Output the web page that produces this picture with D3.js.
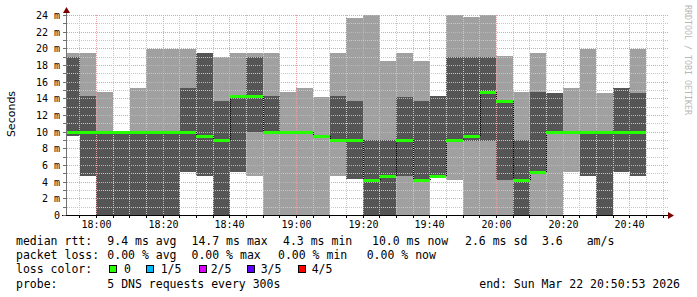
<!DOCTYPE html>
<html><head><meta charset="utf-8">
<script src="https://cdn.jsdelivr.net/npm/d3@7"></script>
<style>body{margin:0;background:#fff;overflow:hidden}</style>
</head><body><svg id="c" width="697" height="297"></svg>
<script>
// ---- data (ms) ----
const slotStarts = ["17:50","17:55","18:00","18:05","18:10","18:15","18:20","18:25","18:30","18:35",
  "18:40","18:45","18:50","18:55","19:00","19:05","19:10","19:15","19:20","19:25",
  "19:30","19:35","19:40","19:45","19:50","19:55","20:00","20:05","20:10","20:15",
  "20:20","20:25","20:30","20:35","20:40"];
const ping1 = [9.6,4.8,0,0,0,0,0,5.28,4.8,0, 5.28,4.8,0,0,0,0,4.8,4.32,0,0, 0,0,4.8,4.28,0,0,0,0,0,0, 5.28,4.8,0,5.28,4.8];
const ping2 = [9.6,4.8,0,0,0,0,0,5.28,4.8,0, 5.28,10.04,10.04,10,10,9.52,9.08,4.32,0,0, 4.8,4.28,4.8,9.08,8.96,8.96,4.28,0,5.28,10, 10,4.8,0,5.28,4.8];
const median = [10,10,10,10,10,10,10,10,9.52,9.08, 14.32,14.32,10.04,10,10,9.52,9.08,9.08,4.28,4.8, 9.08,4.28,4.8,9.08,9.56,14.8,13.8,4.28,5.28,10, 10,10,10,10,10];
const ping4 = [19.04,14.36,10,10,10,10,10,15.36,19.56,13.76, 14.32,19.08,14.36,10,10,9.52,14.36,13.76,9.08,9.08, 14.24,13.76,14.36,19.04,19.04,19.04,13.8,9.08,14.88,14.76, 10,10,10,15.36,14.76];
const ping5 = [19.56,19.56,14.88,10,15.36,20,20,20,19.56,19.04, 19.56,19.56,19.56,14.88,15.36,14.24,19.56,23.68,24.08,18.6, 19.56,18.6,14.36,24.08,23.8,24.08,19.16,14.88,19.56,14.76, 15.36,20,14.76,15.36,20];
const yTicks = [0,2,4,6,8,10,12,14,16,18,20,22,24];
const xTickLabels = ["18:00","18:20","18:40","19:00","19:20","19:40","20:00","20:20","20:40"];
const lossLabels = ["0","1/5","2/5","3/5","4/5"];
const lossColors = ["#26ff00","#00b8ff","#dd00ff","#5e00ff","#ff0000"];
const rttStats = ["9.4 ms avg","14.7 ms max","4.3 ms min","10.0 ms now","2.6 ms sd","3.6","am/s"];
const lossStats = ["0.00 % avg","0.00 % max","0.00 % min","0.00 % now"];
const probeText = "5 DNS requests every 300s";
const endText = "end: Sun Mar 22 20:50:53 2026";

// ---- setup ----
const svg = d3.select("#c");
const T = s => { const [h,m] = s.split(":").map(Number); return new Date(Date.UTC(2026,2,22,h,m)); };
const t0 = new Date(Date.UTC(2026,2,22,17,50,53)), t1 = new Date(Date.UTC(2026,2,22,20,50,53));
const x = d3.scaleUtc().domain([t0,t1]).range([66,666]);
const y = d3.scaleLinear().domain([0,24]).range([215.5,15.5]);
const FIVE = 5*60*1000;
const mono = "'DejaVu Sans Mono', monospace";

svg.append("rect").attr("width",697).attr("height",297).attr("fill","#fff");

const slots = slotStarts.map((s,i)=>{
  const a = T(s), b = new Date(+a+FIVE);
  return {x0: Math.max(67, Math.round(x(a))), x1: Math.round(x(b)),
          p1: ping1[i], p2: ping2[i], p3: median[i], p4: ping4[i], p5: ping5[i]};
});
const g = svg.append("g").attr("shape-rendering","crispEdges");
g.selectAll(".lt").data(slots).join("rect")
  .attr("x",d=>d.x0).attr("width",d=>d.x1-d.x0)
  .attr("y",d=>Math.round(y(d.p5))).attr("height",d=>Math.round(y(d.p1))-Math.round(y(d.p5)))
  .attr("fill","#a0a0a0");
g.selectAll(".dk").data(slots).join("rect")
  .attr("x",d=>d.x0).attr("width",d=>d.x1-d.x0)
  .attr("y",d=>Math.round(y(d.p4))).attr("height",d=>Math.round(y(d.p2))-Math.round(y(d.p4)))
  .attr("fill","#555555");

// grid (on top)
const grid = svg.append("g").attr("shape-rendering","crispEdges");
const minorT = d3.utcMinute.every(5).range(t0,t1);
minorT.forEach(t=>{
  const major = t.getUTCMinutes()%20===0;
  const xx = Math.floor(x(t))+0.5;
  grid.append("line").attr("x1",xx).attr("x2",xx).attr("y1",15).attr("y2",215)
    .attr("stroke", major? "#e8a0a0":"#c8c8c8").attr("stroke-dasharray","1,1");
});
d3.range(1,25).forEach(v=>{
  const major = v%2===0;
  const yy = Math.floor(y(v))+0.5;
  grid.append("line").attr("x1",67).attr("x2",668).attr("y1",yy).attr("y2",yy)
    .attr("stroke", major? "#e8a0a0":"#c8c8c8").attr("stroke-dasharray","1,1");
});

// median connectors + bars
const med = svg.append("g").attr("shape-rendering","crispEdges");
slots.forEach((d,i)=>{
  if(i>0 && slots[i-1].p3!==d.p3){
    med.append("line").attr("x1",d.x0+0.5).attr("x2",d.x0+0.5)
      .attr("y1",y(slots[i-1].p3)).attr("y2",y(d.p3))
      .attr("stroke","#000").attr("stroke-dasharray","1,1");
  }
});
med.selectAll(".md").data(slots).join("rect")
  .attr("x",d=>d.x0).attr("width",d=>d.x1-d.x0)
  .attr("y",d=>Math.round(y(d.p3))-1.5).attr("height",3)
  .attr("fill",lossColors[0]);

// axes
const ax = svg.append("g").attr("shape-rendering","crispEdges");
ax.append("line").attr("x1",66.5).attr("x2",66.5).attr("y1",216).attr("y2",12).attr("stroke","#707070");
ax.append("line").attr("x1",62).attr("x2",670).attr("y1",215.5).attr("y2",215.5).attr("stroke","#000");
svg.append("path").attr("d","M63,13 L66.5,7 L70,13 Z").attr("fill","#800000");
svg.append("path").attr("d","M668,212 L674,215.5 L668,219 Z").attr("fill","#800000");
d3.range(0,25).forEach(v=>{
  const yy = Math.floor(y(v))+0.5;
  ax.append("line").attr("x1",63).attr("x2",66).attr("y1",yy).attr("y2",yy).attr("stroke","#707070");
});
minorT.forEach(t=>{
  const xx = Math.floor(x(t))+0.5;
  ax.append("line").attr("x1",xx).attr("x2",xx).attr("y1",216).attr("y2",218).attr("stroke","#000");
});

// tick labels
svg.append("g").selectAll("text").data(yTicks).join("text")
  .attr("x",60).attr("y",v=>y(v)+3.5).attr("text-anchor","end")
  .attr("font-family",mono).attr("font-size","10px").attr("fill","#000")
  .text(v=> v===0 ? "0" : v+" m");
svg.append("g").selectAll("text").data(xTickLabels).join("text")
  .attr("x",s=>Math.floor(x(T(s)))+0.5).attr("y",227.5).attr("text-anchor","middle")
  .attr("font-family",mono).attr("font-size","10px").attr("fill","#000")
  .text(s=>s);

// y title
svg.append("text").attr("transform","translate(14.5,114) rotate(-90)").attr("text-anchor","middle")
  .attr("font-family","'DejaVu Sans', sans-serif").attr("font-size","11px").attr("fill","#000").text("Seconds");
// watermark
svg.append("text").attr("transform","translate(685,5) rotate(90)")
  .attr("font-family",mono).attr("font-size","8.3px").attr("fill","#b8b8b8").text("RRDTOOL / TOBI OETIKER");

// legend
const leg = svg.append("g").attr("font-family",mono).attr("font-size","11.5px").attr("fill","#000");
const L = (tx,xx,yy)=>leg.append("text").attr("x",xx).attr("y",yy).attr("xml:space","preserve").text(tx);
L("median rtt:",16,245);
[107.3,191.5,283,372,465,542,586.7].forEach((xx,i)=>L(rttStats[i],xx,245));
L("packet loss:",16,259);
[107.3,191.5,278,366.7].forEach((xx,i)=>L(lossStats[i],xx,259));
L("loss color:",16,273);
const sqX = [109,146,199,247,298], lbX = [124,160.7,210.7,260.7,311.7];
lossLabels.forEach((lb,i)=>{
  leg.append("rect").attr("x",sqX[i]+0.5).attr("y",265.5).attr("width",7).attr("height",7)
    .attr("fill",lossColors[i]).attr("stroke","#000").attr("stroke-width",1).attr("shape-rendering","crispEdges");
  L(lb,lbX[i],273);
});
L("probe:",16,288);
L(probeText,107.3,288);
leg.append("text").attr("x",680).attr("y",288).attr("text-anchor","end").text(endText);
</script></body></html>
